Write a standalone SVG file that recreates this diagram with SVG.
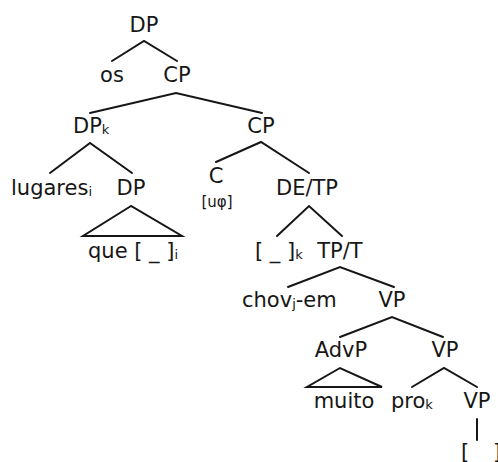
<svg xmlns="http://www.w3.org/2000/svg" width="498" height="462" viewBox="0 0 498 462">
  <style>
    text { font-family: "DejaVu Sans", "Liberation Sans", sans-serif; font-size: 21px; fill: #161616; }
    .m { text-anchor: middle; }
    .sub { font-size: 13px; }
    .feat { font-size: 15px; }
    .edge { stroke: #161616; stroke-width: 2; fill: none; stroke-linecap: round; stroke-linejoin: miter; }
  </style>
  <rect width="498" height="462" fill="#fff"/>

  <!-- branches -->
  <g id="connectors">
    <polyline class="edge" points="112,61 144,41 177,61"/>
    <polyline class="edge" points="90,113 176,93 262,113"/>
    <polyline class="edge" points="50,173 90,143 132,173"/>
    <polyline class="edge" points="216,162 261,142 309,173"/>
    <polygon class="edge" points="131,206 83,236 182,236"/>
    <polyline class="edge" points="277,236 309,206 342,236"/>
    <polyline class="edge" points="288,287 340,267 394,287"/>
    <polyline class="edge" points="340,337 392,317 443,337"/>
    <polygon class="edge" points="340,368 307,387 382,387"/>
    <polyline class="edge" points="412,387 444,368 477,387"/>
    <line class="edge" x1="477" y1="419" x2="477" y2="440"/>
  </g>

  <g id="dp-root"><text class="m" x="144" y="32">DP</text></g>
  <g id="os"><text class="m" x="112" y="82">os</text></g>
  <g id="cp1"><text class="m" x="177" y="82">CP</text></g>
  <g id="dp-k"><text x="73" y="133">DP<tspan class="sub" dy="1">k</tspan></text></g>
  <g id="cp2"><text class="m" x="261" y="133">CP</text></g>
  <g id="lugares"><text x="11" y="195">lugares<tspan class="sub" dy="1">i</tspan></text></g>
  <g id="dp-rel"><text class="m" x="131" y="195">DP</text></g>
  <g id="que"><text x="88" y="258">que [ _ ]<tspan class="sub" dy="1">i</tspan></text></g>
  <g id="c">
    <text class="m" x="216" y="183">C</text>
    <text class="m feat" x="217" y="207">[uφ]</text>
  </g>
  <g id="de-tp"><text class="m" x="307" y="195">DE/TP</text></g>
  <g id="gap-k"><text x="255" y="258">[ _ ]<tspan class="sub" dy="1">k</tspan></text></g>
  <g id="tp-t"><text class="m" x="340" y="258">TP/T</text></g>
  <g id="chovem"><text x="242" y="307">chov<tspan class="sub" dy="1">j</tspan><tspan dy="-1">-em</tspan></text></g>
  <g id="vp1"><text class="m" x="392" y="307">VP</text></g>
  <g id="advp"><text class="m" x="341" y="357">AdvP</text></g>
  <g id="vp2"><text class="m" x="445" y="357">VP</text></g>
  <g id="muito"><text class="m" x="344" y="408">muito</text></g>
  <g id="pro"><text x="391" y="408">pro<tspan class="sub" dy="1">k</tspan></text></g>
  <g id="vp3"><text class="m" x="477" y="408">VP</text></g>
  <g id="gap"><text x="461" y="459">[ _ ]</text></g>
</svg>
